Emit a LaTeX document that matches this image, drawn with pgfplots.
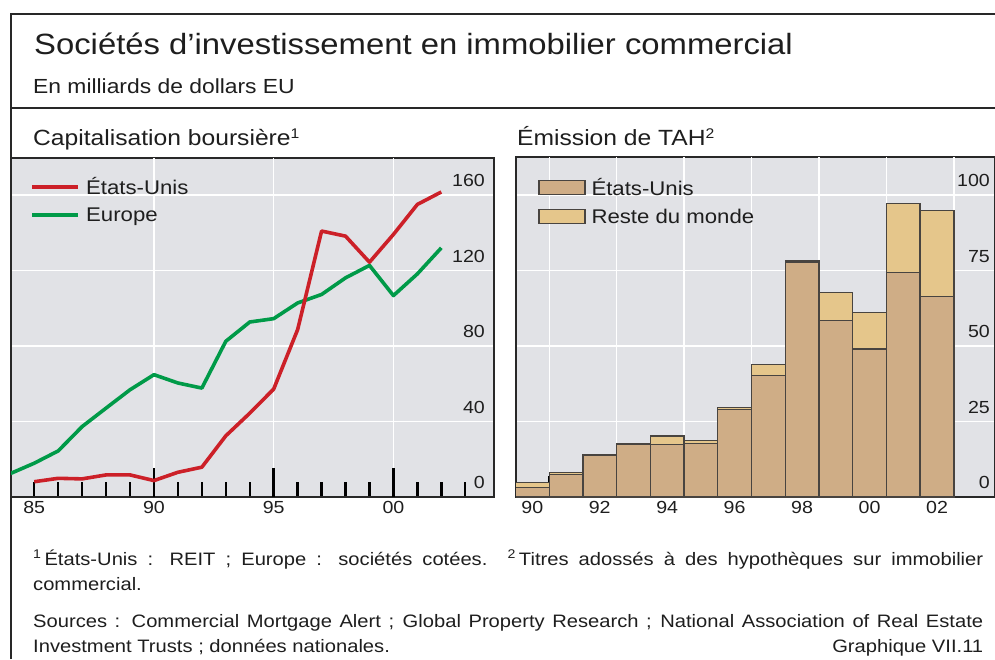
\documentclass[border=0pt]{standalone}
\usepackage{fontspec}
\setmainfont{Liberation Sans}[FakeStretch=1.12]
\usepackage{pgfplots}
\pgfplotsset{compat=1.18}

\definecolor{bgc}{RGB}{225,226,230}
\definecolor{usline}{RGB}{204,32,40}
\definecolor{euline}{RGB}{0,154,72}
\definecolor{usbar}{RGB}{207,173,134}
\definecolor{rowbar}{RGB}{229,198,139}
\definecolor{edgec}{RGB}{72,68,64}
\definecolor{axc}{RGB}{40,40,40}
\definecolor{txt}{RGB}{30,30,30}

\pgfplotsset{
  boxleg/.style={legend image code/.code={\draw[##1] (0pt,-7pt) rectangle (46pt,7pt);}},
  lineleg/.style={legend image code/.code={\draw[##1, line width=4pt] (0pt,0pt) -- (46pt,0pt);}},
}

\begin{document}
\begin{tikzpicture}[x=1pt,y=1pt]
\useasboundingbox (0,0) rectangle (995,659);
\fill[white] (0,0) rectangle (995,659);
% frame
\draw[axc, line width=1.4pt] (11,0) -- (11,645) -- (995,645);
\draw[axc, line width=2.4pt] (11,551) -- (995,551);
\node[anchor=base west, inner sep=0, text=txt] at (34,604) {\fontsize{29.3}{34}\selectfont Sociétés d’investissement en immobilier commercial};
\node[anchor=base west, inner sep=0, text=txt] at (33,565) {\fontsize{20.4}{24}\selectfont En milliards de dollars EU};
\node[anchor=base west, inner sep=0, text=txt] at (33,513) {\fontsize{22}{26}\selectfont Capitalisation boursière\textsuperscript{\fontsize{14}{14}\selectfont 1}};
\node[anchor=base west, inner sep=0, text=txt] at (517,513) {\fontsize{22}{26}\selectfont Émission de TAH\textsuperscript{\fontsize{14}{14}\selectfont 2}};

\node[anchor=base west, inner sep=0, text=txt] at (33,94) {\parbox[t]{950pt}{\fontsize{18}{25}\selectfont
\textsuperscript{1}\,États-Unis : REIT ; Europe : sociétés cotées.\ \ \textsuperscript{2}\,Titres adossés à des hypothèques sur immobilier\linebreak commercial.\par
\vspace{12pt}
Sources : Commercial Mortgage Alert ; Global Property Research ; National Association of Real Estate\linebreak Investment Trusts ; données nationales.\hfill Graphique VII.11}};

% ---------------- left panel
\begin{axis}[
  at={(11pt,162pt)}, anchor=south west,
  scale only axis, width=483pt, height=339pt,
  xmin=84.03, xmax=104.2, ymin=0, ymax=179.6,
  axis background/.style={fill=bgc},
  axis line style={draw=axc, line width=1.4pt},
  tick align=inside,
  xtick pos=lower, ytick pos=right,
  xtick={85,90,95,100}, xticklabels={85,90,95,00},
  minor xtick={85,...,103},
  extra x ticks={90,95,100}, extra x tick labels={,,},
  extra x tick style={major tick length=29pt, xmajorgrids=true},
  major tick length=0pt, minor tick length=15pt,
  every tick/.style={draw=black, line width=2.4pt},
  ytick={0,40,80,120,160}, ymajorgrids=true,
  ytick style={draw=none},
  grid style={white, line width=1.3pt},
  yticklabel pos=right,
  yticklabel style={anchor=south east, inner sep=0pt, xshift=-9pt, yshift=8pt},
  xticklabel style={yshift=-1pt},
  tick label style={font=\fontsize{17.5}{20}\selectfont, text=txt},
  /pgf/number format/assume math mode=true,
  legend style={at={(0,1)}, anchor=north west, xshift=19pt, yshift=-17pt, draw=none, fill=none, inner sep=0pt, row sep=8pt, font=\fontsize{19.8}{22}\selectfont, text=txt, nodes={inner xsep=6pt}},
  legend cell align=left,
  reverse legend,
]
\addplot[euline, line width=3.6pt, line join=round, lineleg] coordinates {
(84,12.4) (85,17.9) (86,24.4) (87,37.3) (88,47.1) (89,56.8) (90,64.8) (91,60.4) (92,57.7) (93,82.5) (94,92.7) (95,94.5) (96,102.8) (97,107.3) (98,116.1) (99,122.7) (100,106.7) (101,118.2) (102,132)
};
\addlegendentry{Europe}
\addplot[usline, line width=3.6pt, line join=round, lineleg] coordinates {
(85,8.1) (86,9.9) (87,9.6) (88,11.7) (89,11.7) (90,8.7) (91,13.1) (92,15.8) (93,32.4) (94,44.4) (95,57.2) (96,88.7) (97,140.9) (98,138.2) (99,124.4) (100,139.1) (101,155) (102,161.6)
};
\addlegendentry{États-Unis}
\end{axis}

% ---------------- right panel
\begin{axis}[
  at={(516pt,162pt)}, anchor=south west,
  scale only axis, width=479pt, height=340pt,
  xmin=89.517, xmax=103.72, ymin=0, ymax=112.6,
  ybar stacked, bar width=1,
  axis background/.style={fill=bgc},
  axis line style={draw=axc, line width=1.4pt},
  tick align=inside,
  xtick pos=lower, ytick pos=right,
  xtick={90,92,94,96,98,100,102}, xticklabels={90,92,94,96,98,00,02},
  extra x ticks={90.5,92.5,94.5,96.5,98.5,100.5,102.5}, extra x tick labels={,,,,,,},
  extra x tick style={major tick length=21pt, xmajorgrids=true},
  major tick length=0pt,
  every tick/.style={draw=black, line width=2pt},
  ytick={0,25,50,75,100}, ymajorgrids=true,
  ytick style={draw=none},
  grid style={white, line width=1.3pt},
  yticklabel pos=right,
  yticklabel style={anchor=south east, inner sep=0pt, xshift=-5pt, yshift=8pt},
  xticklabel style={yshift=-1pt},
  tick label style={font=\fontsize{17.5}{20}\selectfont, text=txt},
  /pgf/number format/assume math mode=true,
  legend style={at={(0,1)}, anchor=north west, xshift=22pt, yshift=-19pt, draw=none, fill=none, inner sep=0pt, row sep=8pt, font=\fontsize{19.8}{22}\selectfont, text=txt, nodes={inner xsep=6pt}},
  legend cell align=left,
]
\addplot[fill=usbar, draw=edgec, line width=1.3pt, boxleg] coordinates {
(90,3.2) (91,7.5) (92,13.9) (93,17.3) (94,17.5) (95,17.8) (96,28.9) (97,40.3) (98,77.8) (99,58.5) (100,49.0) (101,74.4) (102,66.5)
};
\addlegendentry{États-Unis}
\addplot[fill=rowbar, draw=edgec, line width=1.3pt, boxleg] coordinates {
(90,1.6) (91,0.6) (92,0.1) (93,0.3) (94,2.7) (95,0.9) (96,0.7) (97,3.6) (98,0.5) (99,9.3) (100,12.0) (101,22.7) (102,28.4)
};
\addlegendentry{Reste du monde}
\end{axis}
\end{tikzpicture}
\end{document}
